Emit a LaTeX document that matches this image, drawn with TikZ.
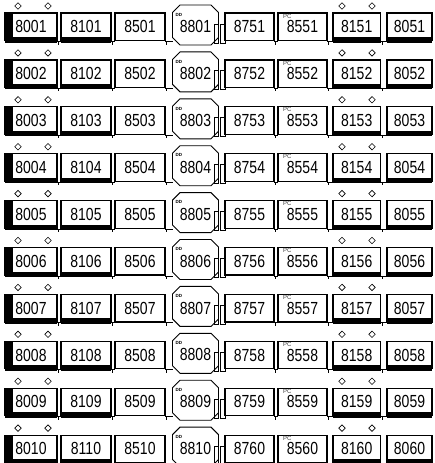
\documentclass[tikz,border=0pt]{standalone}
\usepackage{fontspec}
\setmainfont{Liberation Sans}
\newfontfamily\carfont[FakeStretch=0.8]{Liberation Sans}
\usepackage{tikz}
\usetikzlibrary{shapes.geometric, shapes.misc, positioning}

\begin{document}
\begin{tikzpicture}[
    x=1pt, y=1pt,
    car/.style={
      rectangle, draw=black, fill=white,
      line width=1.2pt,
      minimum height=27.5pt,
      inner sep=0pt, outer sep=0pt,
      font=\carfont\fontsize{17.5}{18}\selectfont
    },
    ddcar/.style={
      chamfered rectangle, chamfered rectangle xsep=4pt,
      draw=black, fill=white, line width=0.9pt,
      minimum width=46pt, minimum height=40pt,
      inner sep=0pt, outer sep=0pt, text height=15.5pt,
      font=\carfont\fontsize{17.5}{18}\selectfont
    },
    panto/.style={
      diamond, draw=black, fill=white, line width=0.6pt,
      minimum width=6.7pt, minimum height=6.7pt, inner sep=0pt
    },
    coupler/.style={line width=0.9pt},
    gangway/.style={line width=0.9pt},
    ddtag/.style={font=\bfseries\fontsize{4.5}{5}\selectfont, inner sep=0pt, anchor=north west},
    pctag/.style={font=\fontsize{6}{6}\selectfont, text=black!75, inner sep=0pt, anchor=north west}
  ]

    % ── Page frame ───────────────────────────────────────────────────────
    \useasboundingbox (0,0) rectangle (434,-463);
    \clip (0,0) rectangle (434,-463);

    % ── One formation per row, row pitch = 46.9 ──────────────────────────
    \foreach \r in {1,...,10} {
      \pgfmathsetmacro\cy{-26.75-(\r-1)*46.9}
      \pgfmathtruncatemacro\ntca{8000+\r}
      \pgfmathtruncatemacro\nma{8100+\r}
      \pgfmathtruncatemacro\nta{8500+\r}
      \pgfmathtruncatemacro\ndd{8800+\r}
      \pgfmathtruncatemacro\ntb{8750+\r}
      \pgfmathtruncatemacro\npc{8550+\r}
      \pgfmathtruncatemacro\nmb{8150+\r}
      \pgfmathtruncatemacro\ntcb{8050+\r}

      % ── Cars ───────────────────────────────────────────────────────────
      \node[car, minimum width=52pt]   (tc_a\r) at (31, \cy)     {\ntca};
      \node[car, minimum width=50pt]   (m_a\r)  at (86, \cy)     {\nma};
      \node[car, minimum width=50pt]   (t_a\r)  at (140, \cy)    {\nta};
      \node[ddcar]                     (dd\r)   at (195.5, \cy+1.75) {\ndd};
      \node[car, minimum width=49pt]   (t_b\r)  at (249.5, \cy)  {\ntb};
      \node[car, minimum width=49pt]   (pc\r)   at (302.5, \cy)  {\npc};
      \node[car, minimum width=47.5pt] (m_b\r)  at (356.75, \cy) {\nmb};
      \node[car, minimum width=45pt]   (tc_b\r) at (409.5, \cy)  {\ntcb};

      % ── Tags ───────────────────────────────────────────────────────────
      \node[ddtag] (ddtag\r) at ([xshift=3pt, yshift=12pt]dd\r.west) {DD};
      \node[pctag] (pctag\r) at ([xshift=5pt, yshift=-0.8pt]pc\r.north west) {PC};

      % ── Black underframe on motor and cab cars ─────────────────────────
      \foreach \c in {tc_a, m_a, m_b, tc_b}
        \fill ([yshift=3.5pt]\c\r.south west) rectangle ([yshift=-2pt]\c\r.south east);
      \fill (tc_a\r.north west) rectangle ([xshift=8pt, yshift=-2pt]tc_a\r.south west);

      % ── Pantographs ────────────────────────────────────────────────────
      \node[panto] (pa_a\r) at ([xshift=-13pt, yshift=20.75pt]tc_a\r.center) {};
      \node[panto] (pb_a\r) at ([xshift=17pt, yshift=20.75pt]tc_a\r.center) {};
      \node[panto] (pa_b\r) at ([xshift=-14.75pt, yshift=20.75pt]m_b\r.center) {};
      \node[panto] (pb_b\r) at ([xshift=15.25pt, yshift=20.75pt]m_b\r.center) {};

      % ── Couplers ───────────────────────────────────────────────────────
      \foreach \a/\b in {tc_a/m_a, m_a/t_a, t_b/pc, pc/m_b, m_b/tc_b} {
        \draw[coupler] ([yshift=-1pt]\a\r.south east) -- ([yshift=-1pt]\b\r.south west);
        \draw[coupler] ([xshift=1.5pt, yshift=-1pt]\a\r.south east) -- ++(0,-3);
      }
      \draw[coupler] ([yshift=-1pt]t_a\r.south east) -- ([yshift=-1pt]t_a\r.south east -| dd\r.west);
      \draw[coupler] ([xshift=1.5pt, yshift=-1pt]t_a\r.south east) -- ++(0,-3);

      % ── Gangway between double-decker and next car ─────────────────────
      \draw[gangway] ([xshift=-4.5pt, yshift=1pt]dd\r.east) rectangle ([yshift=-18pt]dd\r.east);
      \draw[gangway] ([xshift=-4.3pt, yshift=2.75pt]t_b\r.west) rectangle ([yshift=-16.25pt]t_b\r.west);
    }

  \end{tikzpicture}
\end{document}
